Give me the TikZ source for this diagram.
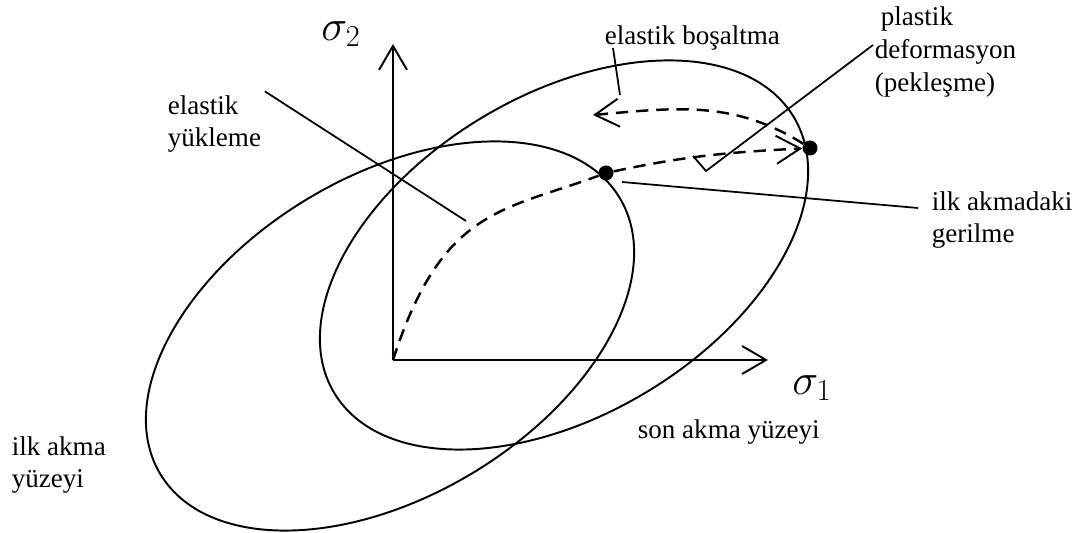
\documentclass[tikz,border=0pt]{standalone}
\usepackage{fontspec}
\setmainfont{Liberation Serif}
\usepackage{tikz}
\usetikzlibrary{
  arrows.meta,
  positioning
}
\tikzset{
    barb/.style={-{Straight Barb[length=0.48cm, width=0.56cm, line width=1.1pt]}},
    surface/.style={line width=1.1pt},
    axisline/.style={line width=1.5pt, barb},
    pathline/.style={line width=1.4pt, dash pattern=on 7pt off 4.5pt},
    leader/.style={line width=1pt},
    dot/.style={circle, fill=black, inner sep=0pt, minimum size=0.3cm},
    lbl/.style={font=\fontsize{15.4}{18.7}\selectfont, align=left, inner sep=2pt, anchor=west},
    sig/.style={font=\fontsize{23}{28}\selectfont, inner sep=0pt}
}

\begin{document}
\begin{tikzpicture}[x=0.02cm, y=0.02cm]
    \useasboundingbox (0,0) rectangle (1087,533);
    % axes
    \coordinate (O) at (393,173);
    \coordinate (s1end) at (768,173);
    \coordinate (s2end) at (393,489);
    \draw[axisline] (O) -- (s1end);
    \draw[axisline] (O) -- (s2end);
    \node[sig] (sig1) at (812,145) {$\sigma_1$};
    \node[sig] (sig2) at (341,499) {$\sigma_2$};
    % yield surfaces
    \coordinate (c1) at (390,197);
    \coordinate (c2) at (564,278);
    \draw[surface, rotate around={31:(c1)}] (c1) ellipse [x radius=268, y radius=160];
    \draw[surface, rotate around={31:(c2)}] (c2) ellipse [x radius=268, y radius=160];
    % loading and unloading
    \node[dot] (d1) at (606,360) {};
    \node[dot] (d2) at (810,385) {};
    \coordinate (unloadEnd) at (593,418);
    \draw[pathline] (O) .. controls (442,325) and (503,322) .. (d1);
    \draw[pathline, barb] (d1) to[out=12, in=183] (d2);
    \draw[pathline, barb] (d2) to[out=148, in=5] (unloadEnd);
    % labels
    \node[lbl] (lblLoad) at (164,409) {elastik\\yükleme};
    \node[lbl] (lblUnload) at (601,495) {elastik boşaltma};
    \node[lbl] (lblPlastic) at (871,481) {\hspace{0.12cm}plastik\\deformasyon\\(pekleşme)};
    \node[lbl] (lblYieldStress) at (928,313) {ilk akmadaki\\gerilme};
    \node[lbl] (lblInitial) at (8,68) {ilk akma\\yüzeyi};
    \node[lbl] (lblFinal) at (634,101) {son akma yüzeyi};
    % leader lines
    \coordinate (loadEnd) at (466,312);
    \coordinate (ulTop) at (613,485);
    \coordinate (ulBot) at (620,438);
    \coordinate (plStart) at (873,488);
    \coordinate (plKnee) at (706,362);
    \coordinate (plTip) at (693,377);
    \coordinate (ysStart) at (622,351);
    \coordinate (ysEnd) at (918,325);
    \draw[leader] (lblLoad.north east) -- (loadEnd);
    \draw[leader] (ulTop) -- (ulBot);
    \draw[leader] (plStart) -- (plKnee) -- (plTip);
    \draw[leader] (ysStart) -- (ysEnd);
\end{tikzpicture}
\end{document}
